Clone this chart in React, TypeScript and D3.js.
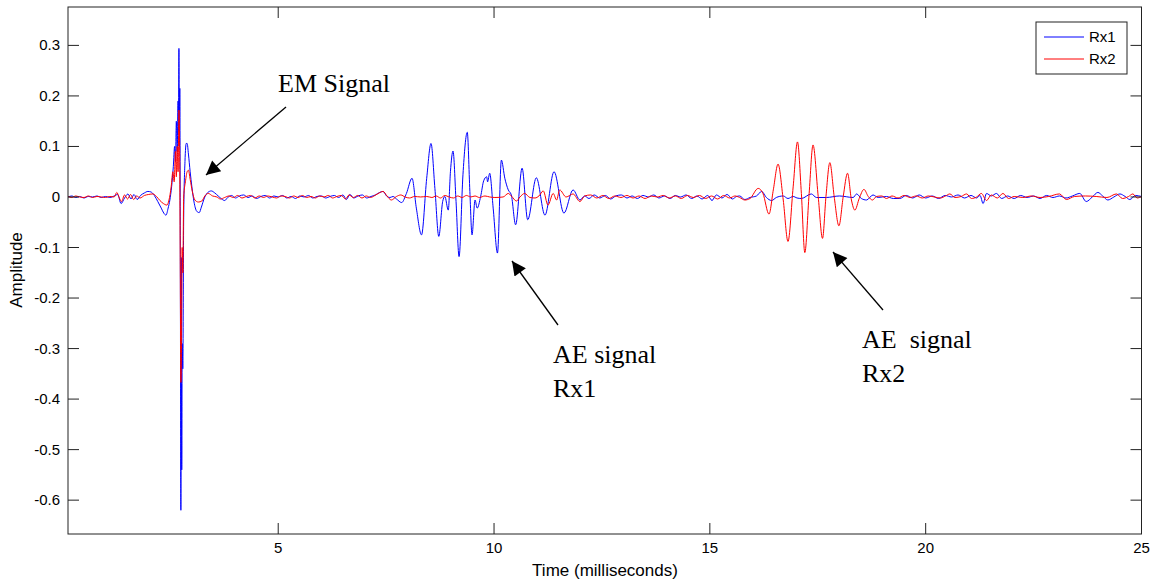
import React from "react";
import * as d3 from "d3";

type P = [number, number];

// Time (ms), amplitude pairs
const rx1Pre: P[] = [[0.13,0.000],[0.22,0.002],[0.31,-0.001],[0.40,0.001],[0.50,-0.002],[0.60,0.001],[0.70,0.000],[0.80,0.002],[0.90,-0.001],[1.00,0.001],[1.10,-0.001],[1.20,0.002],[1.28,0.005],[1.36,-0.013],[1.44,-0.002],[1.52,0.006],[1.59,-0.004],[1.66,0.005],[1.73,-0.005],[1.81,0.003],[1.90,0.008],[1.98,0.011],[2.05,0.010],[2.13,0.003],[2.21,-0.009],[2.29,-0.022],[2.35,-0.032],[2.40,-0.036],[2.45,-0.022],[2.49,-0.006]];
const rx1Em: P[] = [[2.53,0.020],[2.57,0.060],[2.60,0.100],[2.62,0.070],[2.64,0.150],[2.66,0.090],[2.68,0.190],[2.69,0.130],[2.70,0.294],[2.71,0.100],[2.72,0.215],[2.735,-0.240],[2.745,-0.620],[2.755,-0.120],[2.765,-0.540],[2.775,-0.290],[2.79,-0.340],[2.81,-0.040],[2.84,0.070],[2.87,0.106],[2.89,0.106],[2.92,0.085],[2.96,0.050],[3.00,0.020],[3.05,-0.010],[3.11,-0.028],[3.17,-0.031],[3.22,-0.020],[3.29,-0.002],[3.37,0.009],[3.45,0.012],[3.53,0.008],[3.61,0.002],[3.69,-0.004],[3.76,-0.007],[3.83,-0.001]];
const rx1Quiet1: P[] = [[3.92,0.003],[4.01,-0.002],[4.10,0.002],[4.20,0.004],[4.30,-0.001],[4.40,0.002],[4.50,-0.003],[4.60,0.001],[4.70,0.003],[4.80,-0.002],[4.90,0.002],[5.00,0.000],[5.10,0.003],[5.20,-0.002],[5.30,0.001],[5.40,-0.003],[5.50,0.002],[5.60,0.000],[5.70,0.003],[5.80,-0.002],[5.90,0.001],[6.00,0.002],[6.10,-0.002],[6.20,0.001],[6.30,0.003],[6.40,-0.001],[6.50,0.004],[6.58,-0.005],[6.66,0.005],[6.75,-0.002],[6.85,0.002],[6.95,0.004],[7.05,-0.002],[7.15,0.001],[7.25,0.004],[7.35,0.009],[7.43,0.011],[7.51,0.002]];
const rx1Ae: P[] = [[7.59,-0.001],[7.66,0.001],[7.74,-0.004],[7.86,-0.011],[7.97,0.007],[8.10,0.037],[8.20,-0.022],[8.32,-0.075],[8.44,0.037],[8.54,0.106],[8.63,0.017],[8.72,-0.078],[8.81,-0.009],[8.86,0.001],[8.94,-0.026],[8.99,0.050],[9.05,0.091],[9.12,-0.009],[9.19,-0.118],[9.28,0.044],[9.38,0.128],[9.44,0.011],[9.49,-0.075],[9.56,-0.006],[9.61,-0.022],[9.69,0.001],[9.76,0.032],[9.83,0.040],[9.85,0.030],[9.90,0.047],[9.98,-0.022],[10.08,-0.111],[10.17,0.073],[10.25,0.037],[10.33,0.014],[10.40,0.004],[10.50,-0.055],[10.65,0.057],[10.78,-0.045],[10.98,0.038],[11.18,-0.036],[11.39,0.050],[11.62,-0.032],[11.83,0.014],[11.99,-0.006],[12.10,0.002]];
const rx1Quiet2: P[] = [[12.20,-0.003],[12.32,0.004],[12.45,-0.002],[12.58,0.003],[12.70,-0.004],[12.82,0.002],[12.95,0.004],[13.08,-0.002],[13.20,0.002],[13.32,-0.003],[13.45,0.003],[13.58,0.000],[13.70,0.004],[13.82,-0.002],[13.95,0.002],[14.08,-0.003],[14.20,0.003],[14.32,0.000],[14.45,0.004],[14.58,-0.003],[14.70,0.002],[14.82,-0.004],[14.95,0.003],[15.05,-0.007],[15.15,0.004],[15.28,-0.002],[15.40,0.005],[15.52,-0.004],[15.62,0.001]];
const rx1Zone: P[] = [[15.69,0.002],[15.81,-0.005],[15.93,-0.001],[16.08,0.002],[16.20,0.011],[16.31,-0.001],[16.43,-0.007],[16.54,-0.001],[16.70,0.002],[16.81,-0.003],[16.93,0.001],[17.02,-0.002],[17.12,-0.003],[17.35,0.006],[17.47,-0.001],[17.70,-0.001],[18.00,0.002],[18.32,-0.001],[18.40,0.006],[18.51,-0.003],[18.63,-0.006],[18.78,0.004],[18.90,-0.001],[19.09,0.001],[19.25,-0.003]];
const rx1Tail: P[] = [[19.40,-0.003],[19.55,0.003],[19.70,-0.002],[19.85,0.004],[20.00,-0.002],[20.15,0.002],[20.30,-0.003],[20.45,0.003],[20.60,0.000],[20.75,0.004],[20.90,-0.002],[21.05,0.003],[21.18,-0.002],[21.26,0.003],[21.33,-0.013],[21.41,0.007],[21.52,0.002],[21.64,0.007],[21.76,-0.003],[21.90,0.002],[22.05,-0.003],[22.20,0.003],[22.35,-0.001],[22.50,0.002],[22.65,-0.003],[22.80,0.003],[22.95,-0.001],[23.10,0.002],[23.25,-0.002],[23.40,0.002],[23.57,0.007],[23.72,-0.009],[23.86,0.000],[23.99,0.009],[24.10,0.002],[24.22,-0.006],[24.36,0.000],[24.50,0.006],[24.62,0.001],[24.73,-0.005],[24.86,0.003],[25.00,0.001]];

const rx2Pre: P[] = [[0.13,0.001],[0.22,-0.001],[0.31,0.002],[0.40,0.000],[0.50,-0.001],[0.60,0.002],[0.70,-0.001],[0.80,0.001],[0.90,0.000],[1.00,-0.001],[1.10,0.001],[1.20,0.000],[1.26,0.009],[1.32,-0.002],[1.37,-0.009],[1.44,0.004],[1.51,-0.004],[1.58,0.005],[1.65,-0.005],[1.72,0.002],[1.80,-0.002],[1.90,0.003],[2.00,0.005],[2.10,0.006],[2.18,0.001],[2.26,-0.007],[2.34,-0.013],[2.42,-0.016],[2.47,-0.006]];
const rx2Em: P[] = [[2.52,0.020],[2.56,0.050],[2.59,0.030],[2.62,0.090],[2.64,0.040],[2.66,0.100],[2.68,0.050],[2.70,0.172],[2.715,0.110],[2.73,-0.120],[2.745,-0.367],[2.76,-0.286],[2.775,-0.100],[2.79,-0.150],[2.81,0.000],[2.85,0.030],[2.89,0.050],[2.92,0.053],[2.96,0.035],[3.01,0.011],[3.07,-0.006],[3.15,-0.010],[3.23,-0.008],[3.30,0.002],[3.38,0.007],[3.48,0.002],[3.58,0.000],[3.66,-0.004],[3.76,-0.001]];
const rx2Quiet1: P[] = [[3.86,0.002],[3.96,-0.001],[4.06,0.003],[4.16,-0.002],[4.26,0.001],[4.36,0.003],[4.46,-0.002],[4.56,0.002],[4.66,-0.001],[4.76,0.002],[4.86,0.000],[4.96,-0.002],[5.06,0.002],[5.16,0.001],[5.26,-0.002],[5.36,0.002],[5.46,-0.001],[5.56,0.003],[5.66,-0.001],[5.76,0.001],[5.86,-0.002],[5.96,0.002],[6.06,0.000],[6.16,0.003],[6.26,-0.002],[6.36,0.001],[6.46,0.003],[6.56,-0.004],[6.64,0.004],[6.74,-0.001],[6.84,0.003],[6.94,-0.002],[7.04,0.002],[7.14,-0.001],[7.24,0.003],[7.34,0.008],[7.43,0.011],[7.52,0.002]];
const rx2Mid: P[] = [[7.62,-0.006],[7.74,0.001],[7.84,0.004],[7.94,0.000],[8.04,-0.002],[8.16,0.001],[8.30,0.000],[8.44,0.001],[8.56,-0.001],[8.66,0.002],[8.76,-0.002],[8.86,0.003],[8.96,0.000],[9.06,-0.002],[9.16,0.002],[9.26,-0.001],[9.36,0.003],[9.46,0.000],[9.56,0.002],[9.66,-0.001],[9.79,0.002],[9.90,0.000],[10.02,-0.001],[10.21,0.000],[10.33,0.007],[10.40,0.002],[10.52,-0.008],[10.60,0.000],[10.71,0.007],[10.83,-0.001],[10.95,-0.002],[11.04,0.002],[11.14,0.012],[11.25,-0.016],[11.37,0.007],[11.45,-0.006],[11.52,0.014],[11.67,0.000],[11.83,0.006],[11.99,-0.009],[12.10,0.002],[12.24,0.004],[12.38,-0.002],[12.52,0.003],[12.66,-0.003],[12.80,0.002],[12.94,-0.001],[13.08,0.003],[13.22,-0.002],[13.36,0.002],[13.50,-0.003],[13.64,0.002],[13.78,0.000],[13.92,0.003],[14.06,-0.002],[14.20,0.002],[14.34,-0.003],[14.48,0.003],[14.62,-0.001],[14.76,0.003],[14.90,-0.003],[15.04,0.002],[15.18,-0.004],[15.32,0.003],[15.46,-0.002],[15.58,0.002]];
const rx2Ae: P[] = [[15.69,-0.001],[15.81,-0.006],[15.93,-0.003],[16.12,0.017],[16.23,0.007],[16.37,-0.034],[16.47,0.014],[16.58,0.065],[16.70,-0.006],[16.81,-0.088],[16.93,0.020],[17.03,0.109],[17.12,0.007],[17.20,-0.110],[17.30,0.007],[17.39,0.103],[17.51,0.001],[17.61,-0.082],[17.69,0.001],[17.78,0.068],[17.88,0.001],[17.99,-0.057],[18.09,0.001],[18.19,0.047],[18.28,-0.006],[18.36,-0.026],[18.46,-0.003],[18.57,0.015],[18.67,0.001],[18.77,-0.006],[18.86,0.001],[18.98,0.002],[19.09,-0.003]];
const rx2Tail: P[] = [[19.22,0.002],[19.36,-0.002],[19.50,0.003],[19.64,-0.001],[19.78,0.002],[19.92,-0.002],[20.06,0.002],[20.20,0.000],[20.34,-0.002],[20.46,0.002],[20.56,0.006],[20.68,-0.001],[20.82,0.001],[20.95,0.006],[21.06,-0.003],[21.18,0.000],[21.29,0.007],[21.41,-0.007],[21.52,0.004],[21.66,-0.002],[21.79,0.007],[21.92,-0.003],[22.05,0.001],[22.25,-0.001],[22.45,0.002],[22.65,-0.001],[22.85,0.001],[23.10,0.006],[23.26,-0.005],[23.45,0.001],[23.70,0.002],[23.95,0.001],[24.20,-0.001],[24.42,0.006],[24.56,-0.003],[24.70,0.001],[24.80,0.006],[24.90,-0.002],[25.00,0.001]];

const xTicks = [5, 10, 15, 20, 25];
const yTicks = [0.3, 0.2, 0.1, 0, -0.1, -0.2, -0.3, -0.4, -0.5, -0.6];
const seriesNames = ["Rx1", "Rx2"];
const seriesColors = ["#0000ff", "#ff0000"];
const xDomain: [number, number] = [0.13, 25];
const yDomain: [number, number] = [-0.667, 0.376];

const rx1 = [...rx1Pre, ...rx1Em, ...rx1Quiet1, ...rx1Ae, ...rx1Quiet2, ...rx1Zone, ...rx1Tail];
const rx2 = [...rx2Pre, ...rx2Em, ...rx2Quiet1, ...rx2Mid, ...rx2Ae, ...rx2Tail];

export default function App() {
  const W = 1161, H = 586;
  const L = 68, R = 1141.5, T = 7, B = 534;
  const x = d3.scaleLinear().domain(xDomain).range([L, R]);
  const y = d3.scaleLinear().domain(yDomain).range([B, T]);
  const line = d3.line<P>().x(d => x(d[0])).y(d => y(d[1])).curve(d3.curveMonotoneX);
  const sans = "'Liberation Sans', Arial, sans-serif";
  const serif = "'Liberation Serif', 'Times New Roman', serif";
  const tl = 11;
  const fmt = (v: number) => (Math.abs(v) < 1e-9 ? "0" : v.toFixed(1));
  const arrows = [
    { from: [286, 107], to: [206, 175] },
    { from: [558, 325], to: [512, 261] },
    { from: [883, 310], to: [833, 252] },
  ];
  return (
    <svg width={W} height={H} style={{ position: "absolute", left: 0, top: 0, background: "#fff" }}>
      <defs>
        <clipPath id="plotclip"><rect x={L} y={T} width={R - L} height={B - T} /></clipPath>
        <marker id="ah" viewBox="0 0 10 10" refX="10" refY="5" markerWidth="20" markerHeight="14" markerUnits="userSpaceOnUse" orient="auto">
          <path d="M0,0 L10,5 L0,10 z" fill="#000" />
        </marker>
      </defs>
      <rect x={L} y={T} width={R - L} height={B - T} fill="#fff" />
      <g clipPath="url(#plotclip)">
        <path d={line(rx1) || ""} fill="none" stroke={seriesColors[0]} strokeWidth={1} />
        <path d={line(rx2) || ""} fill="none" stroke={seriesColors[1]} strokeWidth={1} />
      </g>
      <rect x={L} y={T} width={R - L} height={B - T} fill="none" stroke="#222" strokeWidth={1} />
      {xTicks.map(t => (
        <g key={"xt" + t}>
          <line x1={x(t)} x2={x(t)} y1={B} y2={B - tl} stroke="#222" />
          <line x1={x(t)} x2={x(t)} y1={T} y2={T + tl} stroke="#222" />
          <text x={x(t)} y={553} fontSize={15} fontFamily={sans} textAnchor="middle">{t}</text>
        </g>
      ))}
      {yTicks.map(t => (
        <g key={"yt" + t}>
          <line x1={L} x2={L + tl} y1={y(t)} y2={y(t)} stroke="#222" />
          <line x1={R} x2={R - tl} y1={y(t)} y2={y(t)} stroke="#222" />
          <text x={60} y={y(t) + 5} fontSize={15} fontFamily={sans} textAnchor="end">{fmt(t)}</text>
        </g>
      ))}
      <text x={605} y={576} fontSize={17} fontFamily={sans} textAnchor="middle">Time (milliseconds)</text>
      <text transform="translate(22,270) rotate(-90)" fontSize={17} fontFamily={sans} textAnchor="middle">Amplitude</text>
      <rect x={1036} y={22} width={91} height={52} fill="#fff" stroke="#222" strokeWidth={1} />
      {seriesNames.map((n, i) => (
        <g key={n}>
          <line x1={1044} x2={1084} y1={37 + i * 22} y2={37 + i * 22} stroke={seriesColors[i]} strokeWidth={1} />
          <text x={1089} y={42 + i * 22} fontSize={15} fontFamily={sans}>{n}</text>
        </g>
      ))}
      <text x={278} y={92} fontSize={26} fontFamily={serif}>EM Signal</text>
      <text x={553} y={363} fontSize={26} fontFamily={serif}>AE signal</text>
      <text x={553} y={397} fontSize={26} fontFamily={serif}>Rx1</text>
      <text x={862} y={348} fontSize={26} fontFamily={serif} style={{ whiteSpace: "pre" }}>{"AE  signal"}</text>
      <text x={862} y={382} fontSize={26} fontFamily={serif}>Rx2</text>
      {arrows.map((a, i) => (
        <line key={"ar" + i} x1={a.from[0]} y1={a.from[1]} x2={a.to[0]} y2={a.to[1]} stroke="#000" strokeWidth={1.3} markerEnd="url(#ah)" />
      ))}
    </svg>
  );
}
